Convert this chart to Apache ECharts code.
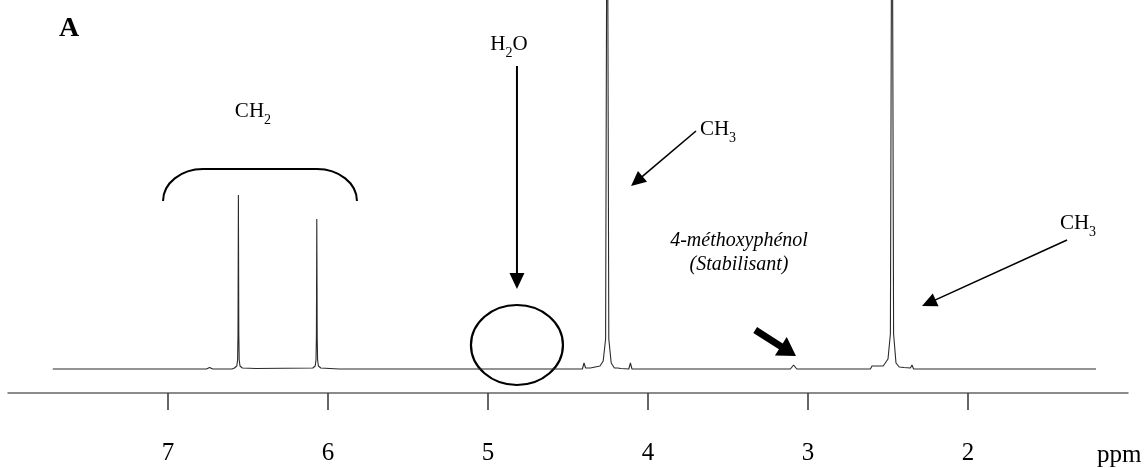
<!DOCTYPE html>
<html>
<head>
<meta charset="utf-8">
<script src="https://cdn.jsdelivr.net/npm/echarts@6/dist/echarts.min.js"></script>
<style>
  html, body { margin: 0; padding: 0; background: #fff; }
  #chart { width: 1146px; height: 468px; }
</style>
</head>
<body>
<div id="chart"></div>
<script>
// ---- Data (ppm, relative intensity; 0 = baseline) ----
const tickValues = [7, 6, 5, 4, 3, 2];
const tickLabels = ['7', '6', '5', '4', '3', '2'];
const axisUnit = 'ppm';
const panelLabel = 'A';

const spectrumPpm = [
  7.72, 6.76, 6.74, 6.72, 6.60, 6.585, 6.57, 6.565, 6.5625, 6.56, 6.5575, 6.555, 6.55, 6.535, 6.45,
  6.095, 6.08, 6.075, 6.0725, 6.07, 6.0675, 6.065, 6.06, 6.045, 5.93, 5.92, 5.91,
  4.77, 4.76, 4.75, 4.41, 4.40, 4.39, 4.36, 4.30, 4.28, 4.265, 4.255, 4.245, 4.23, 4.21,
  4.19, 4.18, 4.17, 4.12, 4.11, 4.10,
  3.11, 3.09, 3.07,
  2.61, 2.60, 2.59, 2.53, 2.50, 2.485, 2.475, 2.465, 2.45, 2.43, 2.40, 2.36, 2.35, 2.34,
  1.20
];
const spectrumIntensity = [
  0, 0, 1.5, 0, 0, 1, 3, 9, 35, 174, 35, 9, 3, 1, 0.5,
  1, 3, 9, 32, 150, 32, 9, 3, 1, 0, 1.5, 0,
  0, 1.2, 0, 0, 6, 1, 1, 3, 8, 30, 600, 30, 6, 1,
  1, 2, 0.5, 0, 6, 0,
  0, 4, 0,
  0, 3, 1, 3, 10, 35, 600, 35, 6, 2, 1.5, 1, 4, 0,
  0
];

// ---- Annotation texts ([text, isSubscript] runs) ----
const annotationTexts = {
  water: [['H', false], ['2', true], ['O', false]],
  ch2: [['CH', false], ['2', true]],
  ch3: [['CH', false], ['3', true]],
  stabilizer: ['4-méthoxyphénol', '(Stabilisant)']
};

const chart = echarts.init(document.getElementById('chart'), null, { renderer: 'canvas' });
const serif = '"Liberation Serif", "Times New Roman", serif';

const seriesData = spectrumPpm.map((p, i) => [p, spectrumIntensity[i]]);

chart.setOption({
  backgroundColor: '#ffffff',
  animation: false,
  title: {
    text: panelLabel,
    left: 54, top: 10,
    textStyle: { fontFamily: serif, fontSize: 28, fontWeight: 'bold', color: '#000' }
  },
  grid: { left: 8, right: 18, top: 0, bottom: 75, containLabel: false },
  xAxis: {
    type: 'value',
    inverse: true,
    min: 1, max: 8,
    interval: 1,
    axisLine: { show: true, onZero: false, lineStyle: { color: '#666', width: 1.5 } },
    axisTick: { show: true, length: 17, customValues: tickValues, lineStyle: { color: '#333', width: 1.5 } },
    axisLabel: {
      show: true, margin: 48, customValues: tickValues,
      formatter: v => tickLabels[tickValues.indexOf(v)] ?? '',
      fontFamily: serif, fontSize: 25, color: '#000'
    },
    splitLine: { show: false }
  },
  yAxis: {
    type: 'value', min: -24, max: 369,
    show: false, splitLine: { show: false }
  },
  series: [{
    type: 'line',
    data: seriesData,
    showSymbol: false,
    symbol: 'none',
    clip: true,
    lineStyle: { color: '#2a2a2a', width: 1.1 }
  }]
});

function px(p) { return chart.convertToPixel({ gridIndex: 0 }, p); }

const measureCtx = document.createElement('canvas').getContext('2d');
function textWidth(t, size) {
  measureCtx.font = size + 'px ' + serif;
  return measureCtx.measureText(t).width;
}

function arrow(from, to, opt) {
  const a = px(from), b = px(to);
  const dx = b[0] - a[0], dy = b[1] - a[1];
  const len = Math.hypot(dx, dy);
  const ux = dx / len, uy = dy / len, nx = -uy, ny = ux;
  const L = opt.head, W = opt.half;
  const bx = b[0] - ux * L, by = b[1] - uy * L;
  const els = [];
  if (opt.shaft) {
    const s = opt.shaft / 2;
    els.push({
      type: 'polygon',
      shape: { points: [
        [a[0] + nx * s, a[1] + ny * s], [bx + nx * s, by + ny * s],
        [bx + nx * W, by + ny * W], [b[0], b[1]],
        [bx - nx * W, by - ny * W], [bx - nx * s, by - ny * s],
        [a[0] - nx * s, a[1] - ny * s]
      ] },
      style: { fill: '#000' }
    });
  } else {
    els.push({
      type: 'line',
      shape: { x1: a[0], y1: a[1], x2: bx + ux * 2, y2: by + uy * 2 },
      style: { stroke: '#000', lineWidth: opt.width || 1.5 }
    });
    els.push({
      type: 'polygon',
      shape: { points: [[b[0], b[1]], [bx + nx * W, by + ny * W], [bx - nx * W, by - ny * W]] },
      style: { fill: '#000' }
    });
  }
  return els;
}

// Chemical formula with real subscripts, centred on a data point (baseline-anchored)
function formula(at, runs, size) {
  const p = px(at);
  const subSize = Math.round(size * 0.68);
  const widths = runs.map(r => textWidth(r[0], r[1] ? subSize : size));
  const total = widths.reduce((s, w) => s + w, 0);
  let x = p[0] - total / 2;
  const baseY = p[1] + size * 0.57;
  const els = [];
  runs.forEach((r, i) => {
    els.push({
      type: 'text', x: x, y: r[1] ? baseY + size * 0.26 : baseY,
      style: {
        text: r[0], fontFamily: serif, fontSize: r[1] ? subSize : size, fill: '#000',
        align: 'left', verticalAlign: 'bottom'
      }
    });
    x += widths[i];
  });
  return els;
}

function plainText(at, text, size, italic) {
  const p = px(at);
  return {
    type: 'text', x: p[0], y: p[1],
    style: { text: text, fontFamily: serif, fontSize: size, fontStyle: italic ? 'italic' : 'normal', fill: '#000', align: 'center', verticalAlign: 'middle' }
  };
}

function bracket(x1, x2, yTop, yEnd) {
  const a = px([x1, yEnd]), b = px([x2, yTop]);
  const L = a[0], R = b[0], T = b[1], E = a[1];
  const rx = 40, ry = E - T, k = 0.552;
  const st = { stroke: '#000', lineWidth: 2, fill: null };
  return [
    { type: 'bezierCurve', shape: { x1: L, y1: E, cpx1: L, cpy1: E - k * ry, cpx2: L + rx - k * rx, cpy2: T, x2: L + rx, y2: T }, style: st },
    { type: 'line', shape: { x1: L + rx, y1: T, x2: R - rx, y2: T }, style: st },
    { type: 'bezierCurve', shape: { x1: R - rx, y1: T, cpx1: R - rx + k * rx, cpy1: T, cpx2: R, cpy2: E - k * ry, x2: R, y2: E }, style: st }
  ];
}

function ellipse(at, rx, ry) {
  const p = px(at);
  return { type: 'ellipse', shape: { cx: p[0], cy: p[1], rx: rx, ry: ry }, style: { stroke: '#000', lineWidth: 2.2, fill: null } };
}

const axisEnd = px([1, -24]);
const graphics = [].concat(
  formula([4.869, 326], annotationTexts.water, 21),
  arrow([4.819, 303], [4.819, 80], { head: 16, half: 7.5, width: 2 }),
  [ellipse([4.819, 24], 46, 40)],
  formula([6.469, 259], annotationTexts.ch2, 21),
  bracket(7.031, 5.819, 200, 168),
  formula([3.5625, 241], annotationTexts.ch3, 21),
  arrow([3.70, 238], [4.106, 183], { head: 15, half: 7, width: 1.6 }),
  [plainText([3.431, 128], annotationTexts.stabilizer[0], 20, true)],
  [plainText([3.431, 104], annotationTexts.stabilizer[1], 20, true)],
  formula([1.3125, 147], annotationTexts.ch3, 21),
  arrow([1.381, 129], [2.2875, 63], { head: 15, half: 7, width: 1.6 }),
  arrow([3.33, 39], [3.075, 13], { head: 18, half: 11, shaft: 7 }),
  [{
    type: 'text', x: px([1.194, 0])[0], y: axisEnd[1] + 62,
    style: { text: axisUnit, fontFamily: serif, fontSize: 25, fill: '#000', align: 'left', verticalAlign: 'middle' }
  }]
);

chart.setOption({ graphic: graphics });
</script>
</body>
</html>
